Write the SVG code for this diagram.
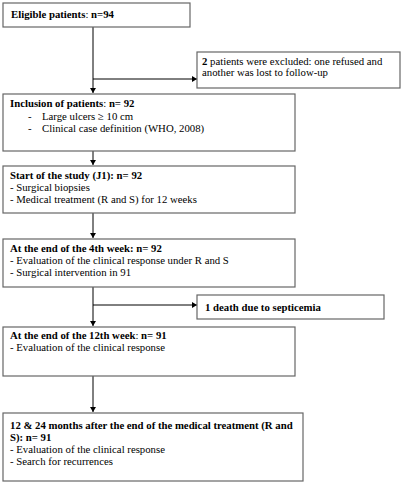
<svg xmlns="http://www.w3.org/2000/svg" width="404" height="484" viewBox="0 0 404 484">
<style>
.box{fill:#fff;stroke:#666;stroke-width:1.2}
text{font-family:"Liberation Serif","Times New Roman",serif;font-size:10.75px;fill:#000}
.b{font-weight:bold}
.ln{stroke:#000;stroke-width:1;fill:none}
</style>
<defs>
<marker id="ah" markerWidth="6" markerHeight="6" refX="5" refY="3" orient="auto" markerUnits="userSpaceOnUse">
<path d="M0,0 L5,3 L0,6 z" fill="#000"/>
</marker>
</defs>
<rect width="404" height="484" fill="#fff"/>
<g id="connectors">
<path class="ln" d="M93,27 V93" marker-end="url(#ah)"/>
<path class="ln" d="M93,79 H197" marker-end="url(#ah)"/>
<path class="ln" d="M93,151 V165" marker-end="url(#ah)"/>
<path class="ln" d="M93,213 V238" marker-end="url(#ah)"/>
<path class="ln" d="M93,287 V326" marker-end="url(#ah)"/>
<path class="ln" d="M93,305 H197" marker-end="url(#ah)"/>
<path class="ln" d="M93,376 V412" marker-end="url(#ah)"/>
</g>
<g id="eligible">
<rect class="box" x="3" y="3" width="187" height="24"/>
<text x="11" y="18"><tspan class="b">Eligible patients</tspan>: <tspan class="b">n=94</tspan></text>
</g>
<g id="excluded">
<rect class="box" x="197" y="52" width="203" height="36"/>
<text x="202" y="65"><tspan class="b">2</tspan> patients were excluded: one refused and</text>
<text x="202" y="76">another was lost to follow-up</text>
</g>
<g id="inclusion">
<rect class="box" x="3" y="94" width="292" height="57"/>
<text x="10" y="107"><tspan class="b">Inclusion of patients</tspan>: <tspan class="b">n= 92</tspan></text>
<text x="28" y="120">-</text><text x="42" y="120">Large ulcers ≥ 10 cm</text>
<text x="28" y="132">-</text><text x="42" y="132">Clinical case definition (WHO, 2008)</text>
</g>
<g id="start">
<rect class="box" x="3" y="166" width="292" height="47"/>
<text class="b" x="10" y="179">Start of the study (J1): n= 92</text>
<text x="10" y="191">- Surgical biopsies</text>
<text x="10" y="203">- Medical treatment (R and S) for 12 weeks</text>
</g>
<g id="week4">
<rect class="box" x="3" y="239" width="292" height="48"/>
<text class="b" x="10" y="252">At the end of the 4th week: n= 92</text>
<text x="10" y="264">- Evaluation of the clinical response under R and S</text>
<text x="10" y="276">- Surgical intervention in 91</text>
</g>
<g id="death">
<rect class="box" x="197" y="295" width="187" height="24"/>
<text class="b" x="205" y="311">1 death due to septicemia</text>
</g>
<g id="week12">
<rect class="box" x="3" y="327" width="292" height="49"/>
<text x="10" y="339"><tspan class="b">At the end of the 12th week</tspan>: <tspan class="b">n= 91</tspan></text>
<text x="10" y="351">- Evaluation of the clinical response</text>
</g>
<g id="followup">
<rect class="box" x="3" y="413" width="300" height="68"/>
<text class="b" x="10" y="429">12 &amp; 24 months after the end of the medical treatment (R and</text>
<text class="b" x="10" y="441">S): n= 91</text>
<text x="10" y="453">- Evaluation of the clinical response</text>
<text x="10" y="465">- Search for recurrences</text>
</g>
</svg>
